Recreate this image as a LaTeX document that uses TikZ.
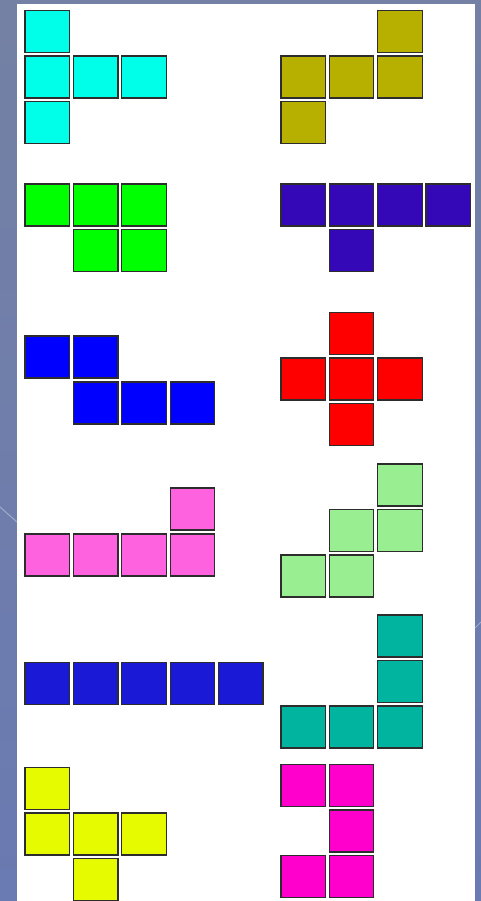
\documentclass[tikz,border=0pt]{standalone}
\begin{document}
\begin{tikzpicture}[x=1pt,y=-1pt,
  cellbox/.style={draw={rgb,255:red,45;green,45;blue,45},line width=1.3pt,line join=miter}]
\definecolor{bgtop}{RGB}{116,129,164}
\definecolor{bgmid}{RGB}{70,86,138}
\definecolor{bgbot}{RGB}{106,122,178}
\definecolor{cCyan}{RGB}{0,255,232}
\definecolor{cOlive}{RGB}{184,176,0}
\definecolor{cGreen}{RGB}{0,255,0}
\definecolor{cIndigo}{RGB}{52,8,182}
\definecolor{cBlue}{RGB}{0,0,255}
\definecolor{cRed}{RGB}{255,0,0}
\definecolor{cPink}{RGB}{255,98,222}
\definecolor{cLGreen}{RGB}{152,238,144}
\definecolor{cViolet}{RGB}{26,26,214}
\definecolor{cTeal}{RGB}{0,180,160}
\definecolor{cYellow}{RGB}{230,250,0}
\definecolor{cMagenta}{RGB}{255,0,204}
\useasboundingbox (0,0) rectangle (481,901);
% background
\shade[top color=bgtop,middle color=bgmid,bottom color=bgbot,shading angle=0] (0,0) rectangle (481,901);
\draw[white,opacity=0.35,line width=1pt] (0,507) -- (17,522);
\draw[white,opacity=0.35,line width=1pt] (475,628) -- (481,622);
% panel
\fill[white!98!green!50!white] (17,4) rectangle (475,901);
\fill[white] (17,4) rectangle (475,901);
\def\Lz{25}\def\Lo{73.4}\def\Lt{121.8}\def\Lh{170.2}\def\Lf{218.6}
\def\Rz{281}\def\Ro{329.3}\def\Rt{377.7}\def\Rh{426}
\newcommand\cell[3]{\draw[cellbox,fill=#1] (#2,#3) rectangle ++(44.5,42);}
% piece 1 cyan
\cell{cCyan}{\Lz}{10.3}
\cell{cCyan}{\Lz}{56}\cell{cCyan}{\Lo}{56}\cell{cCyan}{\Lt}{56}
\cell{cCyan}{\Lz}{101.7}
% piece 2 olive
\cell{cOlive}{\Rt}{10.3}
\cell{cOlive}{\Rz}{56}\cell{cOlive}{\Ro}{56}\cell{cOlive}{\Rt}{56}
\cell{cOlive}{\Rz}{101.7}
% piece 3 green
\cell{cGreen}{\Lz}{184}\cell{cGreen}{\Lo}{184}\cell{cGreen}{\Lt}{184}
\cell{cGreen}{\Lo}{229.5}\cell{cGreen}{\Lt}{229.5}
% piece 4 indigo
\cell{cIndigo}{\Rz}{184}\cell{cIndigo}{\Ro}{184}\cell{cIndigo}{\Rt}{184}\cell{cIndigo}{\Rh}{184}
\cell{cIndigo}{\Ro}{229.5}
% piece 5 blue
\cell{cBlue}{\Lz}{336}\cell{cBlue}{\Lo}{336}
\cell{cBlue}{\Lo}{382}\cell{cBlue}{\Lt}{382}\cell{cBlue}{\Lh}{382}
% piece 6 red
\cell{cRed}{\Ro}{312.7}
\cell{cRed}{\Rz}{358}\cell{cRed}{\Ro}{358}\cell{cRed}{\Rt}{358}
\cell{cRed}{\Ro}{403.7}
% piece 7 pink
\cell{cPink}{\Lh}{488}
\cell{cPink}{\Lz}{534}\cell{cPink}{\Lo}{534}\cell{cPink}{\Lt}{534}\cell{cPink}{\Lh}{534}
% piece 8 light green
\cell{cLGreen}{\Rt}{464}
\cell{cLGreen}{\Ro}{509.3}\cell{cLGreen}{\Rt}{509.3}
\cell{cLGreen}{\Rz}{555}\cell{cLGreen}{\Ro}{555}
% piece 9 violet
\cell{cViolet}{\Lz}{662.7}\cell{cViolet}{\Lo}{662.7}\cell{cViolet}{\Lt}{662.7}\cell{cViolet}{\Lh}{662.7}\cell{cViolet}{\Lf}{662.7}
% piece 10 teal
\cell{cTeal}{\Rt}{615}
\cell{cTeal}{\Rt}{660.7}
\cell{cTeal}{\Rz}{706}\cell{cTeal}{\Ro}{706}\cell{cTeal}{\Rt}{706}
% piece 11 yellow
\cell{cYellow}{\Lz}{767.3}
\cell{cYellow}{\Lz}{813}\cell{cYellow}{\Lo}{813}\cell{cYellow}{\Lt}{813}
\cell{cYellow}{\Lo}{858.3}
% piece 12 magenta
\cell{cMagenta}{\Rz}{764.7}\cell{cMagenta}{\Ro}{764.7}
\cell{cMagenta}{\Ro}{810}
\cell{cMagenta}{\Rz}{855.7}\cell{cMagenta}{\Ro}{855.7}
\end{tikzpicture}
\end{document}
